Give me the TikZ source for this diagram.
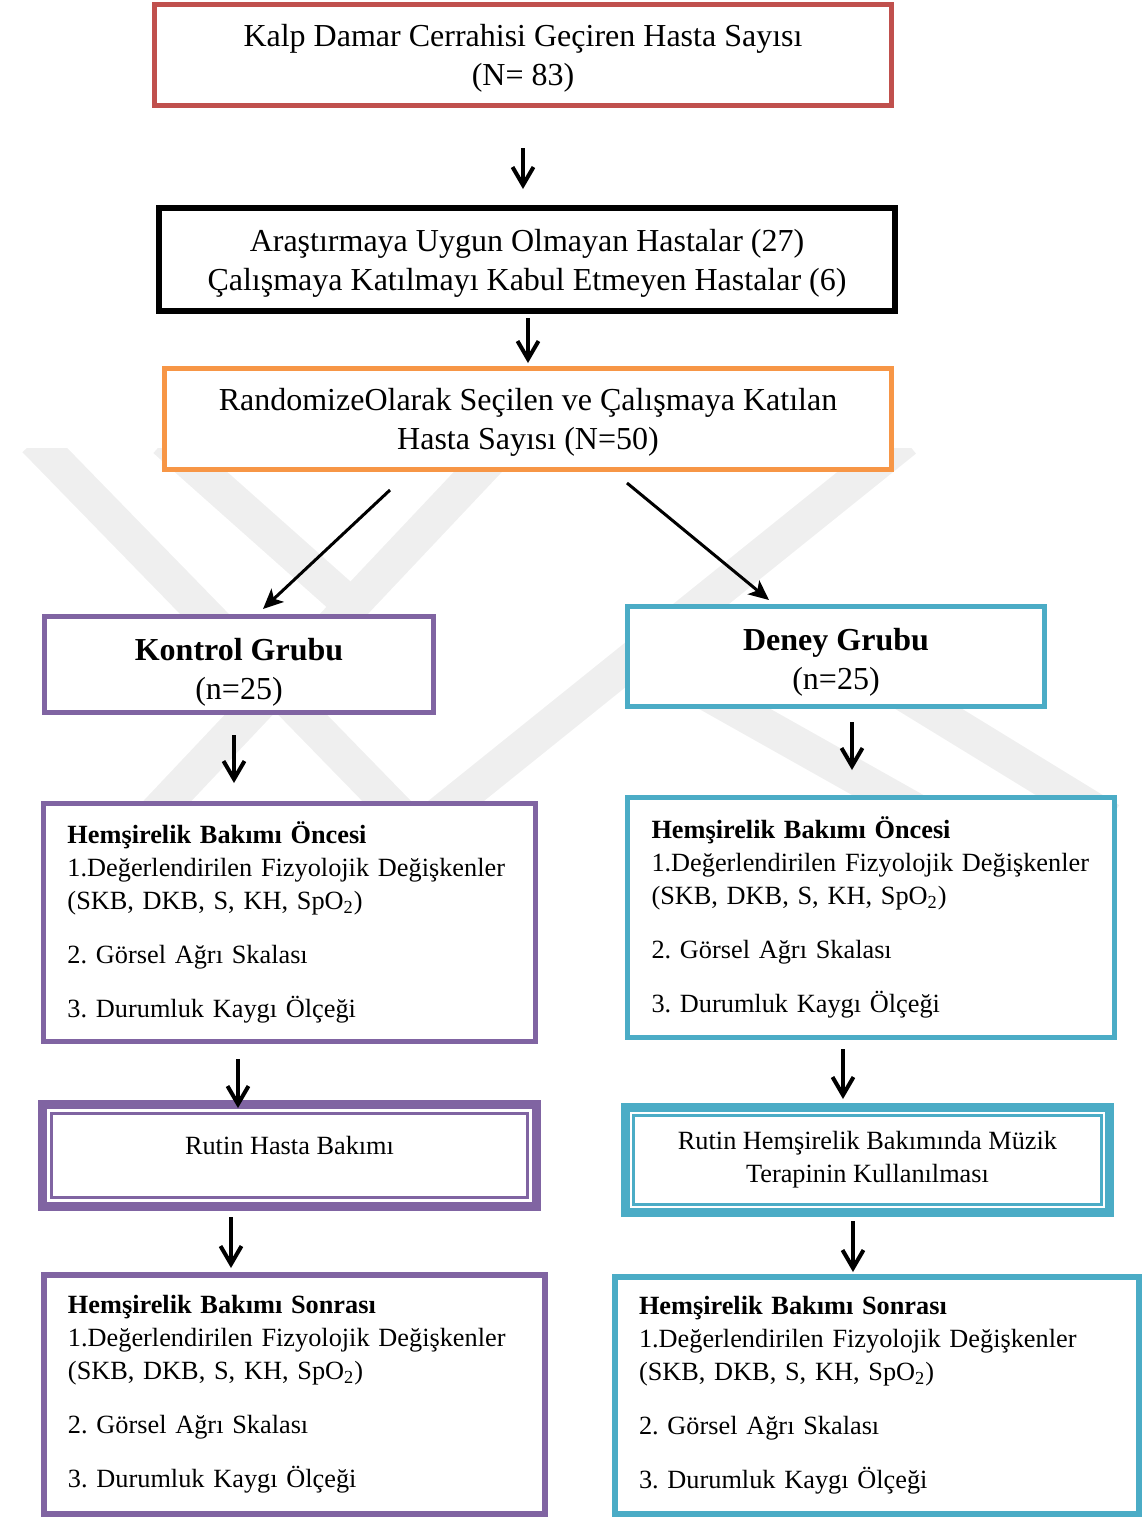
\documentclass[tikz,border=0pt]{standalone}
\usepackage{fontspec}
\setmainfont{Liberation Serif}
\frenchspacing
\usetikzlibrary{arrows.meta,calc}
\definecolor{cred}{HTML}{C0504D}
\definecolor{corange}{HTML}{F79646}
\definecolor{cpurple}{HTML}{8064A2}
\definecolor{cblue}{HTML}{4BACC6}
\definecolor{wmark}{HTML}{EFEFEF}
\tikzset{
  bigtext/.style={font=\fontsize{16}{19.5}\selectfont\frenchspacing},
  smalltext/.style={font=\fontsize{13.15}{16.5}\selectfont\frenchspacing},
  cbox/.style={draw=#1, fill=white, line width=2.5pt, rectangle, align=center,
    inner sep=2pt, outer sep=0pt, bigtext, text depth=0pt},
  lbox/.style={draw=#1, fill=white, line width=2.5pt, rectangle, align=left,
    inner xsep=12pt, inner ysep=2pt, outer sep=0pt, smalltext},
  dbox/.style={draw=#1, fill=white, line width=4.5pt, rectangle, align=center,
    inner sep=2pt, outer sep=0pt, smalltext},
  varrow/.style={line width=2pt, -{Straight Barb[length=9pt,width=10.5pt]}},
  darrow/.style={line width=1.5pt, -{Stealth[length=10pt,width=9pt,inset=2.5pt]}},
  wstripe/.style={draw=wmark, line width=17.5pt, line cap=butt, line join=miter},
}
\begin{document}
\begin{tikzpicture}[x=0.5pt,y=-0.5pt]
\useasboundingbox (0,0) rectangle (1142,1517);
% watermark
\begin{scope}
  \clip (0,448) rectangle (1142,815);
  \draw[wstripe] (35,440) -- (410,825);
  \draw[wstripe] (165,440) -- (345,600);
  \draw[wstripe] (508,440) -- (140,830);
  \draw[wstripe] (905,440) -- (420,830);
  \draw[wstripe] (630,650) -- (950,830);
  \draw[wstripe] (800,630) -- (1110,820);
\end{scope}
% boxes
\node[cbox=cred, minimum width=368.5pt, minimum height=50.5pt] (total) at (523,55)
  {Kalp Damar Cerrahisi Geçiren Hasta Sayısı\\(N= 83)};
\node[cbox=black, line width=3pt, minimum width=368pt, minimum height=51.5pt] (excl) at (527,259.5)
  {Araştırmaya Uygun Olmayan Hastalar (27)\\Çalışmaya Katılmayı Kabul Etmeyen Hastalar (6)};
\node[cbox=corange, minimum width=363.5pt, minimum height=50.5pt] (rand) at (528,419)
  {RandomizeOlarak Seçilen ve Çalışmaya Katılan\\Hasta Sayısı (N=50)};
\node[cbox=cpurple, minimum width=194.5pt, minimum height=48pt] (kont) at (239,664.5)
  {\rule{0pt}{15pt}\textbf{Kontrol Grubu}\\(n=25)};
\node[cbox=cblue, minimum width=208.5pt, minimum height=50pt] (deney) at (836,656.5)
  {\rule{0pt}{13pt}\textbf{Deney Grubu}\\(n=25)};
\node[lbox=cpurple, text width=222pt, minimum height=119pt] (kpre) at (289.5,922.5)
  {\textbf{Hemşirelik Bakımı Öncesi}\\\mbox{1.Değerlendirilen Fizyolojik Değişkenler}\\(SKB, DKB, S, KH, SpO\textsubscript{2})\\[10.5pt]2. Görsel Ağrı Skalası\\[10.5pt]3. Durumluk Kaygı Ölçeği};
\node[lbox=cblue, text width=219.5pt, minimum height=120pt] (dpre) at (871,917.5)
  {\textbf{Hemşirelik Bakımı Öncesi}\\\mbox{1.Değerlendirilen Fizyolojik Değişkenler}\\(SKB, DKB, S, KH, SpO\textsubscript{2})\\[10.5pt]2. Görsel Ağrı Skalası\\[10.5pt]3. Durumluk Kaygı Ölçeği};
\node[dbox=cpurple, minimum width=247pt, minimum height=51pt] (krut) at (289.5,1155.5) {};
\draw[cpurple, line width=1.5pt] ([shift={(4.5pt,-4.5pt)}]krut.north west) rectangle ([shift={(-4.5pt,4.5pt)}]krut.south east);
\node[smalltext] (krutt) at (289.5,1145) {Rutin Hasta Bakımı};
\node[dbox=cblue, minimum width=242pt, minimum height=52.5pt] (drut) at (867.5,1160)
  {Rutin Hemşirelik Bakımında Müzik\\Terapinin Kullanılması};
\draw[cblue, line width=1.5pt] ([shift={(4pt,-4pt)}]drut.north west) rectangle ([shift={(-4pt,4pt)}]drut.south east);
\node[lbox=cpurple, line width=2.75pt, text width=226.5pt, minimum height=119.5pt] (kpost) at (294.5,1394.5)
  {\textbf{Hemşirelik Bakımı Sonrası}\\\mbox{1.Değerlendirilen Fizyolojik Değişkenler}\\(SKB, DKB, S, KH, SpO\textsubscript{2})\\[10.5pt]2. Görsel Ağrı Skalası\\[10.5pt]3. Durumluk Kaygı Ölçeği};
\node[lbox=cblue, line width=2.75pt, text width=238pt, minimum height=118.5pt] (dpost) at (877,1395.5)
  {\textbf{Hemşirelik Bakımı Sonrası}\\\mbox{1.Değerlendirilen Fizyolojik Değişkenler}\\(SKB, DKB, S, KH, SpO\textsubscript{2})\\[10.5pt]2. Görsel Ağrı Skalası\\[10.5pt]3. Durumluk Kaygı Ölçeği};
% arrows
\draw[varrow] ($(total.south)+(0,-21.25pt)$) -- ($(excl.north -| total.south)+(0,9.5pt)$);
\draw[varrow] ($(excl.south)+(0.5pt,-3.5pt)$) -- ($(rand.north)+(0,2.75pt)$);
\draw[darrow] ($(rand.south)+(-69pt,-10.25pt)$) -- ($(kont.north)+(12pt,3.75pt)$);
\draw[darrow] ($(rand.south)+(49.5pt,-6.75pt)$) -- ($(deney.north)+(-33.5pt,3.25pt)$);
\draw[varrow] ($(kont.south)+(-2.5pt,-11.25pt)$) -- ($(kpre.north)+(-27.75pt,10.25pt)$);
\draw[varrow] ($(deney.south)+(8pt,-7.75pt)$) -- ($(dpre.north)+(-9.5pt,13.75pt)$);
\draw[varrow] ($(kpre.south)+(-25.75pt,-8.75pt)$) -- ($(krut.north)+(-25.75pt,-1.75pt)$);
\draw[varrow] ($(dpre.south)+(-14pt,-5.75pt)$) -- ($(drut.north)+(-12.25pt,4.25pt)$);
\draw[varrow] ($(krut.south)+(-29.25pt,-5.25pt)$) -- ($(kpost.north)+(-31.75pt,3.5pt)$);
\draw[varrow] ($(drut.south)+(-7.25pt,-4.25pt)$) -- ($(dpost.north)+(-12pt,2.5pt)$);
\end{tikzpicture}
\end{document}
